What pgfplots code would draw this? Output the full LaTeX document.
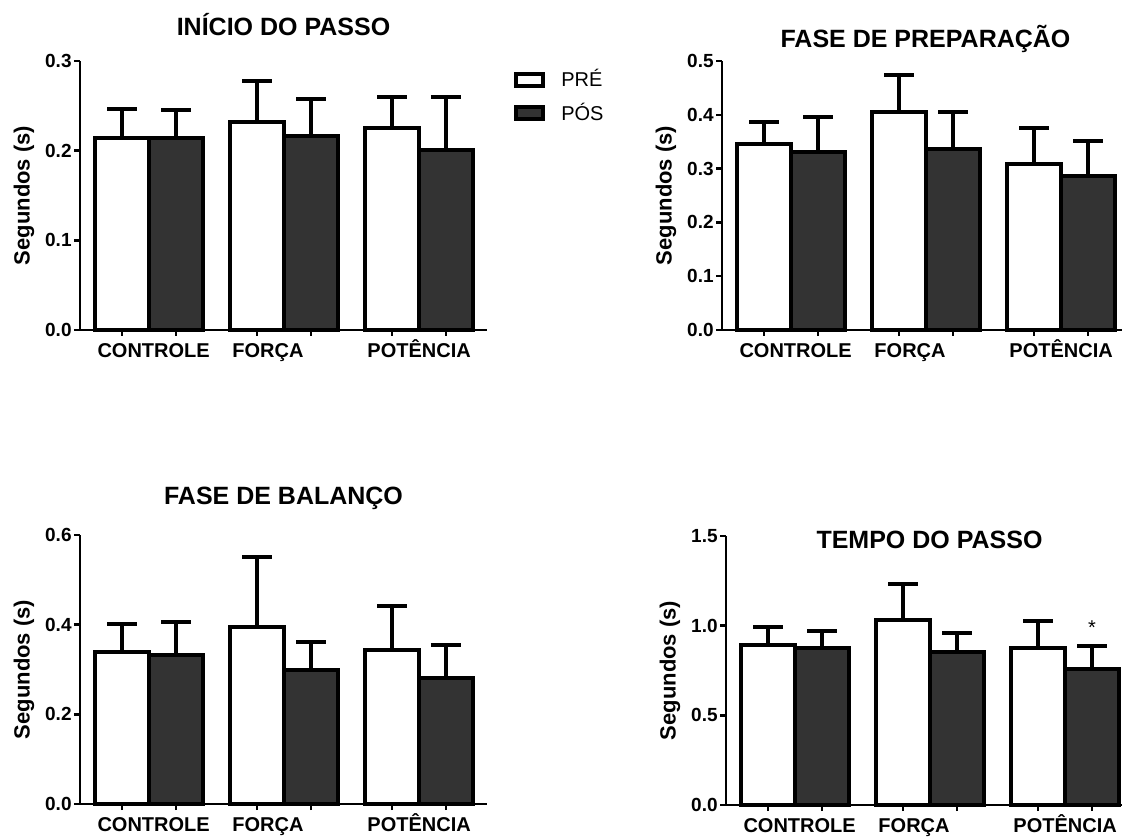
\documentclass[border=0pt]{standalone}
\usepackage{fontspec}
\setmainfont{Liberation Sans}
\usepackage{pgfplots}
\pgfplotsset{compat=1.18}
\definecolor{darkbar}{RGB}{51,51,51}

\tikzset{
  glab/.style={anchor=base west, inner sep=0pt, xshift=1pt, yshift=-13.5pt,
    font=\fontsize{10}{12}\selectfont\bfseries},
}
\pgfplotsset{
  every axis title shift=0pt,
  prism/.style={
    scale only axis, width=203.5pt, height=134.5pt,
    anchor=south west,
    axis lines*=left,
    axis line style={line width=1.2pt, -, black},
    xmin=-0.78, xmax=6.76, ymin=0,
    xtick={0,1,2.5,3.5,5,6}, xticklabels={,,,,,},
    tick align=outside, major tick length=3pt,
    tick style={line width=1.2pt, black},
    ybar, bar width=1, bar shift=0pt,
    clip=false,
    yticklabel style={font=\fontsize{9.5}{10}\selectfont\bfseries, inner sep=1pt,
      /pgf/number format/assume math mode=true,
      /pgf/number format/fixed, /pgf/number format/fixed zerofill,
      /pgf/number format/precision=1},
    ylabel={Segundos (s)},
    ylabel style={font=\fontsize{11}{12}\selectfont\bfseries,
      at={(axis description cs:-0.1376,0.5)}, anchor=center},
    title style={font=\fontsize{12.5}{14}\selectfont\bfseries,
      at={(axis description cs:0.5,1)}, anchor=base, inner sep=0pt},
    legend image code/.code={\draw[#1, line width=2pt] (0pt,-3pt) rectangle (13.5pt,3pt);},
  },
  pre/.style={fill=white, draw=black, line width=2pt,
    error bars/.cd, y dir=plus, y explicit,
    error bar style={line width=2pt, black, solid},
    error mark options={rotate=90, mark size=7.5pt, line width=2pt, black}},
  pos/.style={fill=darkbar, draw=black, line width=2pt,
    error bars/.cd, y dir=plus, y explicit,
    error bar style={line width=2pt, black, solid},
    error mark options={rotate=90, mark size=7.5pt, line width=2pt, black}},
}

\begin{document}
\begin{tikzpicture}
\useasboundingbox (0,0) rectangle (561pt,418pt);
\clip (0,0) rectangle (561pt,418pt);

% Panel 1
\begin{axis}[prism, at={(40pt,253pt)}, ymax=0.3, ytick={0,0.1,0.2,0.3},
  title={INÍCIO DO PASSO}, title style={yshift=13pt},
  legend style={at={(axis description cs:1.066,0.97)}, anchor=north west,
    draw=none, fill=none, inner sep=0pt, row sep=6.5pt,
    font=\fontsize{10}{11}\selectfont, nodes={inner sep=0pt},
    /tikz/every odd column/.append style={column sep=8pt}},
  legend cell align=left]
\addplot[pre] coordinates {(0,0.2145) +- (0,0.0325) (2.5,0.2323) +- (0,0.0457) (5,0.2249) +- (0,0.035)};
\addplot[pos] coordinates {(1,0.2138) +- (0,0.031) (3.5,0.2167) +- (0,0.041) (6,0.2007) +- (0,0.059)};
\legend{PRÉ,PÓS}
\node[glab] at (axis cs:-0.5,0) {CONTROLE};
\node[glab] at (axis cs:2,0) {FORÇA};
\node[glab] at (axis cs:4.5,0) {POTÊNCIA};
\end{axis}

% Panel 2
\begin{axis}[prism, at={(361pt,253pt)}, ymax=0.5, ytick={0,0.1,0.2,0.3,0.4,0.5},
  title={FASE DE PREPARAÇÃO}, title style={yshift=6.5pt}]
\addplot[pre] coordinates {(0,0.345) +- (0,0.041) (2.5,0.406) +- (0,0.068) (5,0.309) +- (0,0.067)};
\addplot[pos] coordinates {(1,0.331) +- (0,0.064) (3.5,0.336) +- (0,0.069) (6,0.286) +- (0,0.065)};
\node[glab] at (axis cs:-0.5,0) {CONTROLE};
\node[glab] at (axis cs:2,0) {FORÇA};
\node[glab] at (axis cs:4.5,0) {POTÊNCIA};
\end{axis}

% Panel 3
\begin{axis}[prism, at={(40pt,16pt)}, ymax=0.6, ytick={0,0.2,0.4,0.6},
  title={FASE DE BALANÇO}, title style={yshift=15.5pt}]
\addplot[pre] coordinates {(0,0.340) +- (0,0.061) (2.5,0.395) +- (0,0.157) (5,0.343) +- (0,0.099)};
\addplot[pos] coordinates {(1,0.332) +- (0,0.075) (3.5,0.300) +- (0,0.061) (6,0.282) +- (0,0.073)};
\node[glab] at (axis cs:-0.5,0) {CONTROLE};
\node[glab] at (axis cs:2,0) {FORÇA};
\node[glab] at (axis cs:4.5,0) {POTÊNCIA};
\end{axis}

% Panel 4
\begin{axis}[prism, at={(363pt,15.5pt)}, ymax=1.5, ytick={0,0.5,1,1.5},
  title={TEMPO DO PASSO}, title style={yshift=-6pt}]
\addplot[pre] coordinates {(0,0.895) +- (0,0.096) (2.5,1.029) +- (0,0.204) (5,0.877) +- (0,0.148)};
\addplot[pos] coordinates {(1,0.877) +- (0,0.096) (3.5,0.854) +- (0,0.104) (6,0.761) +- (0,0.123)};
\node[glab] at (axis cs:-0.5,0) {CONTROLE};
\node[glab] at (axis cs:2,0) {FORÇA};
\node[glab] at (axis cs:4.5,0) {POTÊNCIA};
\node[anchor=base, inner sep=0pt, font=\fontsize{10}{12}\selectfont] at (axis cs:6,0.953) {*};
\end{axis}
\end{tikzpicture}
\end{document}
